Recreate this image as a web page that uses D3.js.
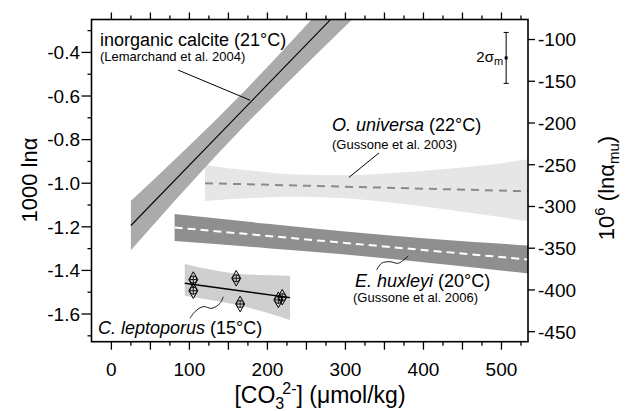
<!DOCTYPE html>
<html>
<head>
<meta charset="utf-8">
<script src="https://cdnjs.cloudflare.com/ajax/libs/d3/7.8.5/d3.min.js"></script>
<style>
  body { margin: 0; background: #fff; }
  svg text { font-family: "Liberation Sans", Arial, Helvetica, sans-serif; fill: #000; }
</style>
</head>
<body>
<svg id="chart" width="631" height="411"></svg>
<script>
// ---- data ----
// inorganic calcite (21°C), Lemarchand et al. 2004
const calciteX     = [25, 100, 170, 240, 320];
const calciteFit   = [-1.194, -0.917, -0.659, -0.401, -0.105];
const calciteUpper = [-1.081, -0.827, -0.579, -0.313, 0.000];
const calciteLower = [-1.307, -1.007, -0.739, -0.489, -0.210];

// O. universa (22°C), Gussone et al. 2003
const universaX     = [120, 180, 240, 300, 360, 420, 480, 534];
const universaFit   = [-1.000, -1.005, -1.011, -1.016, -1.022, -1.027, -1.032, -1.037];
const universaUpper = [-0.918, -0.943, -0.960, -0.963, -0.953, -0.937, -0.917, -0.890];
const universaLower = [-1.082, -1.068, -1.062, -1.069, -1.090, -1.116, -1.146, -1.174];

// E. huxleyi (20°C), Gussone et al. 2006
const huxleyiX     = [81, 200, 300, 400, 534];
const huxleyiFit   = [-1.203, -1.242, -1.274, -1.307, -1.350];
const huxleyiUpper = [-1.141, -1.186, -1.221, -1.252, -1.286];
const huxleyiLower = [-1.265, -1.298, -1.327, -1.362, -1.414];

// C. leptoporus (15°C)
const leptoX     = [94, 125, 160, 195, 229];
const leptoFit   = [-1.459, -1.474, -1.491, -1.508, -1.525];
const leptoUpper = [-1.370, -1.395, -1.415, -1.421, -1.424];
const leptoLower = [-1.516, -1.535, -1.558, -1.590, -1.627];
const leptoPtsX  = [105, 105, 160, 165, 214, 219];
const leptoPtsY  = [-1.442, -1.493, -1.436, -1.554, -1.535, -1.523];

// 2 sigma error bar (right axis units)
const sigmaX = 506, sigmaMid = -122, sigmaHalf = 30.5;

// ticks
const xLabels  = [0, 100, 200, 300, 400, 500];
const yLabels  = [-1.6, -1.4, -1.2, -1.0, -0.8, -0.6, -0.4];
const y2Labels = [-100, -150, -200, -250, -300, -350, -400, -450];

// ---- layout ----
const svg = d3.select('#chart');
const plot = {left: 91.5, right: 528, top: 19.5, bottom: 341.7};

const x = d3.scaleLinear().domain([-25.5, 534]).range([plot.left, plot.right]);
const y = d3.scaleLinear().domain([-1.727, -0.249]).range([plot.bottom, plot.top]);
const y2 = d3.scaleLinear().domain([-462, -76]).range([plot.bottom, plot.top]);

svg.append('clipPath').attr('id', 'clip')
    .append('rect')
    .attr('x', plot.left).attr('y', plot.top)
    .attr('width', plot.right - plot.left).attr('height', plot.bottom - plot.top);

const g = svg.append('g').attr('clip-path', 'url(#clip)');

function band(xs, up, lo){
    let pts = xs.map((d, i) => ({x: d, up: up[i], lo: lo[i]}));
    return d3.area().x(d => x(d.x)).y0(d => y(d.lo)).y1(d => y(d.up)).curve(d3.curveMonotoneX)(pts);
}
function fitLine(xs, ys){
    return d3.line().x(d => x(d[0])).y(d => y(d[1]))([[xs[0], ys[0]], [xs[xs.length-1], ys[ys.length-1]]]);
}

// bands
g.append('path').attr('d', band(universaX, universaUpper, universaLower)).attr('fill', '#e6e6e6');
g.append('path').attr('d', band(huxleyiX, huxleyiUpper, huxleyiLower)).attr('fill', '#8f8f8f');
g.append('path').attr('d', band(leptoX, leptoUpper, leptoLower)).attr('fill', '#cfcfcf');
g.append('path').attr('d', band(calciteX, calciteUpper, calciteLower)).attr('fill', '#ababab');

// fit lines
g.append('path').attr('d', fitLine(universaX, universaFit))
    .attr('stroke', '#8a8a8a').attr('stroke-width', 2).attr('stroke-dasharray', '8,6').attr('fill', 'none');
g.append('path').attr('d', fitLine(huxleyiX, huxleyiFit))
    .attr('stroke', '#fff').attr('stroke-width', 2).attr('stroke-dasharray', '8,5').attr('fill', 'none');
g.append('path').attr('d', fitLine(calciteX, calciteFit))
    .attr('stroke', '#000').attr('stroke-width', 1.1).attr('fill', 'none');
g.append('path').attr('d', fitLine(leptoX, leptoFit))
    .attr('stroke', '#000').attr('stroke-width', 1.4).attr('fill', 'none');

// C. leptoporus data points: diamond with circle and cross
let pts = g.selectAll('.pt').data(leptoPtsX.map((d, i) => [d, leptoPtsY[i]]))
    .enter().append('g').attr('class', 'pt')
    .attr('transform', d => 'translate(' + x(d[0]) + ',' + y(d[1]) + ')');
pts.append('path').attr('d', d3.symbol().type(d3.symbolDiamond).size(70))
    .attr('fill', 'none').attr('stroke', '#000').attr('stroke-width', 1);
pts.append('circle').attr('r', 3.6).attr('fill', 'none').attr('stroke', '#000').attr('stroke-width', 0.9);
pts.append('path').attr('d', 'M-3.6,0H3.6M0,-3.6V3.6').attr('stroke', '#000').attr('stroke-width', 0.9);

// error bar
svg.append('line').attr('x1', x(sigmaX)).attr('x2', x(sigmaX))
    .attr('y1', y2(sigmaMid - sigmaHalf)).attr('y2', y2(sigmaMid + sigmaHalf))
    .attr('stroke', '#000').attr('stroke-width', 1);
[sigmaMid - sigmaHalf, sigmaMid + sigmaHalf].forEach(v => {
    svg.append('line').attr('x1', x(sigmaX) - 2.5).attr('x2', x(sigmaX) + 2.5)
        .attr('y1', y2(v)).attr('y2', y2(v)).attr('stroke', '#000').attr('stroke-width', 1);
});
svg.append('rect').attr('x', x(sigmaX) - 1.5).attr('y', y2(sigmaMid) - 1.5)
    .attr('width', 3).attr('height', 3).attr('fill', '#000');
let sig = svg.append('text').attr('x', x(sigmaX) - 3).attr('y', y2(sigmaMid) + 4.5)
    .attr('text-anchor', 'end').style('font-size', '15px');
sig.append('tspan').text('2σ');
sig.append('tspan').attr('dy', 3).style('font-size', '11px').text('m');

// ---- axes ----
const xMinor = d3.range(0, 526, 25);
const xMajor = xMinor.filter(d => d % 50 === 0);

function tickLines(vals, len, axis){
    vals.forEach(v => {
        if(axis == 'bottom')
            svg.append('line').attr('x1', x(v)).attr('x2', x(v)).attr('y1', plot.bottom).attr('y2', plot.bottom + len);
        else if(axis == 'top')
            svg.append('line').attr('x1', x(v)).attr('x2', x(v)).attr('y1', plot.top).attr('y2', plot.top - len);
        else if(axis == 'left')
            svg.append('line').attr('x1', plot.left).attr('x2', plot.left - len).attr('y1', y(v)).attr('y2', y(v));
        else
            svg.append('line').attr('x1', plot.right).attr('x2', plot.right + len).attr('y1', y2(v)).attr('y2', y2(v));
    });
}
tickLines(xMinor.filter(d => d % 50 !== 0), 4, 'bottom');
tickLines(xMajor, 8, 'bottom');
tickLines(xMinor.filter(d => d % 50 !== 0), 4, 'top');
tickLines(xMajor, 7, 'top');
tickLines(d3.range(-17, -2).map(d => d / 10).filter(d => !yLabels.some(v => Math.abs(v - d) < 1e-6)), 4, 'left');
tickLines(yLabels, 10, 'left');
tickLines(y2Labels, 7, 'right');
svg.selectAll('line:not([stroke])').attr('stroke', '#000').attr('stroke-width', 1.3);

svg.append('rect')
    .attr('x', plot.left).attr('y', plot.top)
    .attr('width', plot.right - plot.left).attr('height', plot.bottom - plot.top)
    .attr('fill', 'none').attr('stroke', '#000').attr('stroke-width', 1.6);

svg.selectAll('.xl').data(xLabels).enter().append('text')
    .attr('x', d => x(d)).attr('y', 376)
    .attr('text-anchor', 'middle').style('font-size', '19px')
    .text(d => d);
svg.selectAll('.yl').data(yLabels).enter().append('text')
    .attr('x', 80).attr('y', d => y(d)).attr('dy', '0.36em')
    .attr('text-anchor', 'end').style('font-size', '19px')
    .text(d => d.toFixed(1));
svg.selectAll('.y2l').data(y2Labels).enter().append('text')
    .attr('x', 538).attr('y', d => y2(d)).attr('dy', '0.36em')
    .style('font-size', '19px')
    .text(d => d);

// axis titles
let xt = svg.append('text').attr('x', 320).attr('y', 403).attr('text-anchor', 'middle').style('font-size', '23px');
xt.append('tspan').text('[CO');
xt.append('tspan').attr('dy', 6).style('font-size', '16px').text('3');
xt.append('tspan').attr('dy', -15).attr('dx', -2).style('font-size', '16px').text('2-');
xt.append('tspan').attr('dy', 9).text('] (μmol/kg)');

svg.append('text').attr('transform', 'translate(37,180) rotate(-90)')
    .attr('text-anchor', 'middle').style('font-size', '22px').text('1000 lnα');

let yt = svg.append('text').attr('transform', 'translate(614,188) rotate(-90)')
    .attr('text-anchor', 'middle').style('font-size', '22px');
yt.append('tspan').text('10');
yt.append('tspan').attr('dy', -9).style('font-size', '15px').text('6');
yt.append('tspan').attr('dy', 9).text(' (lnα');
yt.append('tspan').attr('dy', 5).style('font-size', '15px').text('mu');
yt.append('tspan').attr('dy', -5).text(')');

// ---- annotations ----
function label(px, py, italic, rest, ref, refPy, refPx){
    let t = svg.append('text').attr('x', px).attr('y', py).style('font-size', '18px');
    if(italic) t.append('tspan').style('font-style', 'italic').text(italic);
    t.append('tspan').text(rest);
    if(ref)
        svg.append('text').attr('x', refPx).attr('y', refPy).style('font-size', '13px').text(ref);
}
label(100, 46, null, 'inorganic calcite (21°C)', '(Lemarchand et al. 2004)', 61, 100);
label(332, 131, 'O. universa', ' (22°C)', '(Gussone et al. 2003)', 148.5, 332);
label(355, 287, 'E. huxleyi', ' (20°C)', '(Gussone et al. 2006)', 302, 353);
label(98, 334, 'C. leptoporus', ' (15°C)', null);

// leader lines (data units)
const leaders = [
    [[85.5, -0.481], [177.7, -0.619]],
    [[343, -0.861], [304.6, -0.973]]
];
const wavy = [
    [[340, -1.398], [346.4, -1.367], [357.1, -1.360], [367.7, -1.367], [380.5, -1.334]],
    [[100.7, -1.620], [107.2, -1.589], [117.8, -1.566], [128.6, -1.574], [139.2, -1.551], [143.4, -1.521]]
];
leaders.forEach(l => {
    svg.append('path').attr('d', d3.line().x(d => x(d[0])).y(d => y(d[1]))(l))
        .attr('stroke', '#000').attr('stroke-width', 1).attr('fill', 'none');
});
wavy.forEach(l => {
    svg.append('path').attr('d', d3.line().x(d => x(d[0])).y(d => y(d[1])).curve(d3.curveCatmullRom)(l))
        .attr('stroke', '#000').attr('stroke-width', 0.9).attr('fill', 'none');
});
</script>
</body>
</html>
